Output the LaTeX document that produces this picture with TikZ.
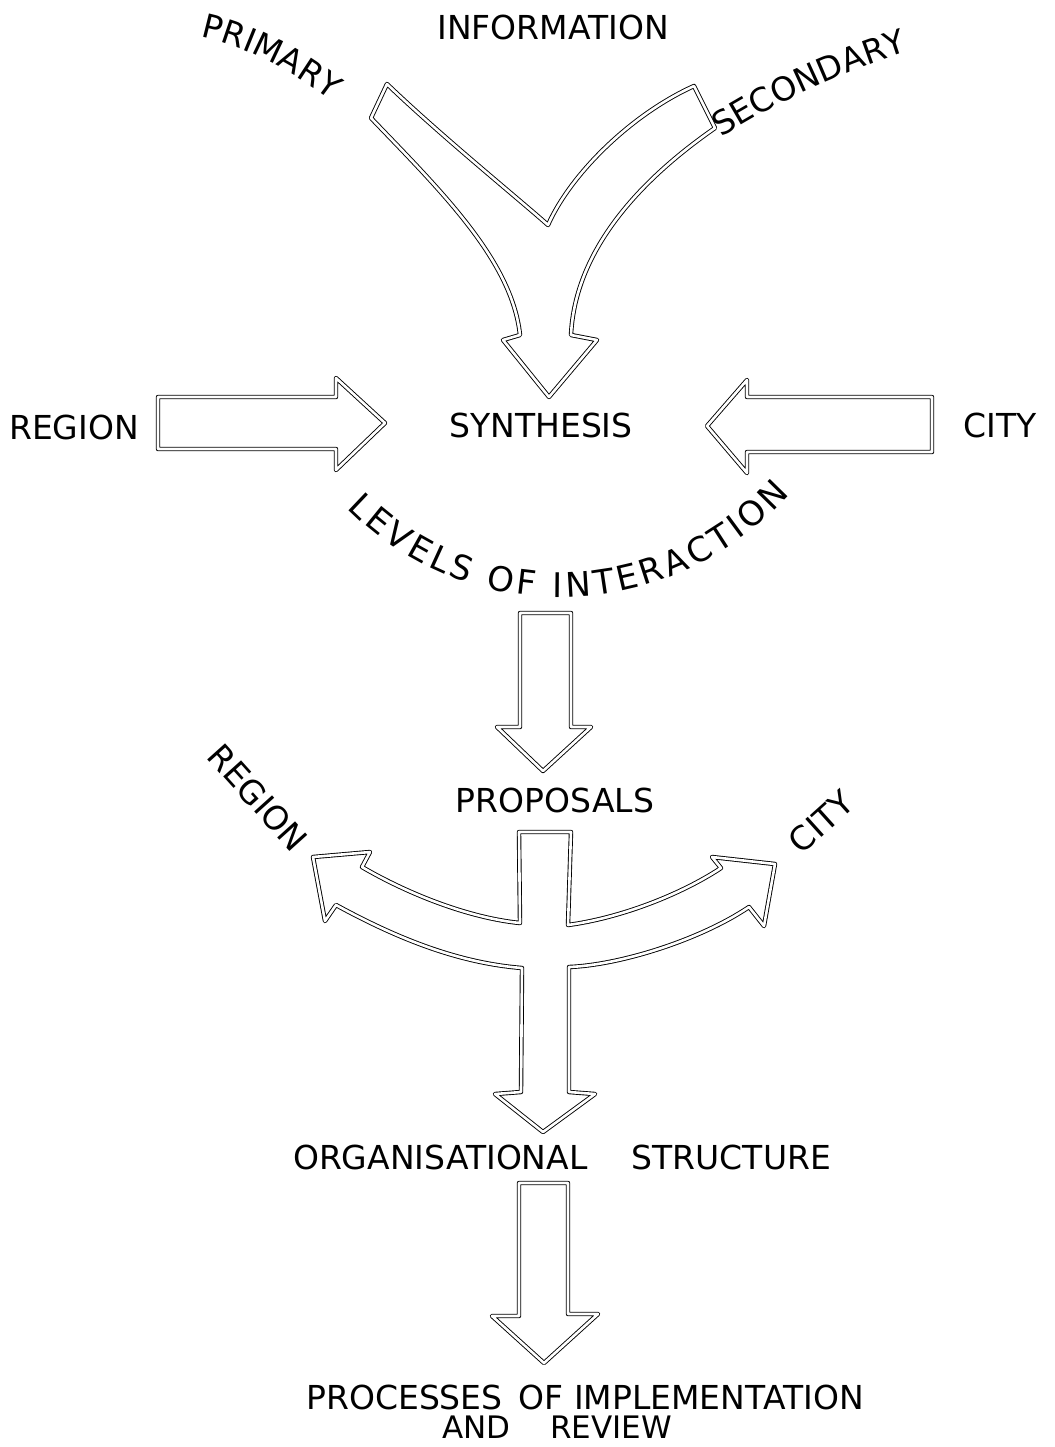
\documentclass[tikz,border=0pt]{standalone}
\usepackage{fontspec}
\setmainfont{DejaVu Sans}
\usepackage{tikz}
\usetikzlibrary{positioning,decorations.text}
\newcommand{\lblfont}{\fontsize{16.5}{18}\selectfont}

\begin{document}
\begin{tikzpicture}[
    x=0.5pt, y=-0.5pt,
    lbl/.style={font=\lblfont, inner sep=0pt},
    blk/.style={draw=black, line width=0.45pt, double=white, double distance=1.3pt, line join=round},
    curvedlbl/.style={decorate, decoration={text along path, text align=center, text={|\lblfont|#1}}}
  ]
    \useasboundingbox (0,0) rectangle (1055,1447);

    % labels
    \node[lbl] (info) at (553,27) {INFORMATION};
    \node[lbl] (regA) at (74,427) {REGION};
    \node[lbl] (synth) at (541,425) {SYNTHESIS};
    \node[lbl] (cityA) at (1000,425) {CITY};
    \node[lbl] (prop) at (555,800) {PROPOSALS};
    \node[lbl, rotate=-48] (regB) at (258,798) {REGION};
    \node[lbl, rotate=42] (cityB) at (821,822) {CITY};
    \node[lbl] (org) at (562,1157) {ORGANISATIONAL\hspace{22pt}STRUCTURE};
    \node[lbl] (procA) at (585,1397) {PROCESSES\hspace{8pt}OF IMPLEMENTATION};
    \node[lbl, font=\fontsize{15.5}{17}\selectfont, below=3pt of procA, xshift=-14pt] (procB) {AND\hspace{20pt}REVIEW};

    \path[curvedlbl={PRIMARY}] (195,36) .. controls (240,44) and (290,68) .. (335,104);
    \path[curvedlbl={SECONDARY}] (718,140) .. controls (765,108) and (840,72) .. (912,50);
    \path[decorate, decoration={text along path, text align=fit to path,
      text={|\fontsize{17}{18}\selectfont|LEVELS OF INTERACTION}}]
      (347,508) .. controls (470,632) and (670,626) .. (790,494);

    % information arrow
    \draw[blk] (387,84) .. controls (440,135) and (520,200) .. (548,225)
      .. controls (570,175) and (630,115) .. (694,86)
      -- (715,128)
      .. controls (640,180) and (575,250) .. (571,335)
      -- (597,340) -- (549,397) -- (503,340) -- (520,335)
      .. controls (512,260) and (440,190) .. (371,118)
      -- cycle;

    % side arrows
    \draw[blk] (158,397) -- (336,397) -- (336,378) -- (385,423) -- (336,470) -- (336,449) -- (158,449) -- cycle;
    \draw[blk] (932,397) -- (747,397) -- (747,380) -- (707,426) -- (747,473) -- (747,452) -- (932,452) -- cycle;

    % down arrows
    \draw[blk] (520,613) -- (571,613) -- (571,727) -- (591,727) -- (543,771) -- (497,727) -- (520,727) -- cycle;
    \draw[blk] (519,1183) -- (568,1183) -- (568,1314) -- (598,1314) -- (544,1363) -- (492,1316) -- (519,1316) -- cycle;

    % proposals cross
    \draw[blk] (519,832) -- (571,832) -- (568,925)
      .. controls (620,918) and (680,895) .. (721,868)
      -- (712,857) -- (775,864) -- (764,926) -- (749,907)
      .. controls (700,940) and (620,965) .. (569,967)
      -- (569,1092) -- (595,1094) -- (543,1132) -- (495,1094) -- (521,1092) -- (522,968)
      .. controls (460,963) and (400,940) .. (336,905)
      -- (325,921) -- (313,857) -- (370,852) -- (362,867)
      .. controls (410,895) and (470,918) .. (520,923)
      -- cycle;
\end{tikzpicture}
\end{document}
